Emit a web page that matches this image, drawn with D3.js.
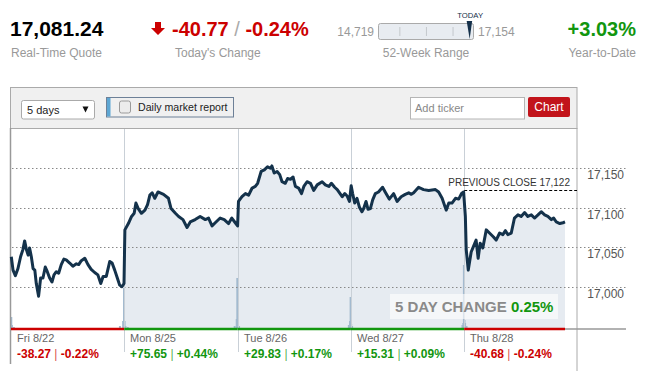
<!DOCTYPE html>
<html lang="en">
<head>
<meta charset="UTF-8">
<title>DJIA 5 days</title>
<script src="https://d3js.org/d3.v7.min.js"></script>
<style>
  body { margin: 0; background: #fff; }
  svg text { font-family: "Liberation Sans", Arial, sans-serif; }
</style>
</head>
<body>
<div id="chart"></div>
<script>
// quote header
const quote = 17081.24;
const todayChange = -40.77;
const todayPct = -0.24;
const weekLow = 14719;
const weekHigh = 17154;
const ytdPct = 3.03;
const prevClose = 17122;
const fiveDayPct = 0.25;

// day labels + daily changes
const days = ["Fri 8/22", "Mon 8/25", "Tue 8/26", "Wed 8/27", "Thu 8/28"];
const dayChanges = [-38.27, 75.65, 29.83, 15.31, -40.68];
const dayPercents = [-0.22, 0.44, 0.17, 0.09, -0.24];
const yTicks = [17000, 17050, 17100, 17150];

// intraday prices, [minute after open, price]
const fri = [[1,17038],[7,17021],[15,17014],[24,17023],[33,17038],[41,17047],[47,17058],[53,17047],[59,17040],[64,17049],[70,17038],[76,17023],[82,17021],[87,17004],[95,16988],[102,17011],[110,17011],[118,17025],[125,17019],[133,17011],[141,17006],[148,17015],[156,17019],[164,17017],[173,17028],[182,17035],[190,17034],[202,17030],[213,17026],[225,17029],[233,17028],[242,17033],[254,17036],[265,17028],[276,17022],[288,17018],[299,17015],[309,17004],[317,17013],[328,17013],[340,17032],[348,17030],[357,17021],[366,17011],[374,17002],[382,17000],[389,17004]];
const mon = [[2,17072],[14,17080],[25,17089],[34,17093],[40,17106],[48,17099],[59,17093],[71,17097],[80,17104],[88,17116],[96,17119],[105,17112],[116,17120],[135,17117],[152,17112],[161,17099],[176,17093],[187,17089],[202,17085],[216,17075],[227,17082],[244,17085],[261,17089],[279,17085],[290,17087],[302,17077],[313,17081],[330,17087],[344,17085],[359,17080],[370,17087],[382,17081],[390,17077]];
const tue = [[3,17108],[15,17114],[27,17118],[38,17116],[50,17125],[61,17127],[69,17131],[81,17146],[92,17148],[103,17152],[113,17150],[118,17153],[126,17144],[136,17146],[145,17142],[153,17133],[164,17131],[172,17137],[182,17136],[191,17139],[199,17127],[210,17125],[220,17118],[228,17127],[239,17133],[251,17131],[262,17122],[274,17129],[291,17133],[302,17129],[314,17127],[323,17131],[334,17126],[343,17123],[360,17114],[369,17118],[377,17115],[385,17108]];
const wed = [[1,17128],[6,17118],[13,17106],[21,17112],[29,17101],[38,17095],[44,17099],[52,17108],[59,17098],[67,17099],[75,17110],[84,17118],[95,17120],[109,17126],[118,17120],[132,17111],[147,17118],[159,17108],[173,17114],[187,17117],[199,17119],[208,17117],[216,17119],[233,17126],[250,17123],[268,17122],[291,17123],[302,17120],[314,17112],[328,17097],[337,17106],[348,17106],[360,17112],[371,17111],[381,17118],[388,17120]];
const thu = [[4,17089],[7,17047],[14,17021],[24,17044],[32,17051],[41,17059],[48,17036],[55,17055],[64,17049],[76,17072],[87,17068],[101,17063],[110,17059],[122,17068],[133,17066],[142,17071],[150,17066],[162,17068],[173,17087],[185,17091],[196,17089],[208,17094],[219,17089],[231,17091],[242,17087],[254,17091],[265,17095],[277,17091],[288,17089],[300,17085],[308,17087],[317,17082],[329,17080],[340,17081],[347,17082]];

// relative volume, [minute, vol]
const friVol = [[1,12],[3,4],[10,2],[375,3],[386,8],[389,41]];
const monVol = [[1,8],[4,3],[12,2],[380,3],[387,10],[389,51]];
const tueVol = [[1,6],[5,3],[383,4],[387,8],[389,32]];
const wedVol = [[1,5],[4,3],[384,4],[387,6],[389,64]];
const thuVol = [[1,9],[3,6],[8,3]];

const W = 645, H = 371;
const red = "#cc0000", green = "#12960f", gray = "#999";

const svg = d3.select("#chart").append("svg")
  .attr("width", W).attr("height", H);

// ---------- header ----------
svg.append("text").attr("x", 10).attr("y", 36)
  .attr("font-size", 21).attr("font-weight", "bold").attr("fill", "#000")
  .text(d3.format(",.2f")(quote));
svg.append("text").attr("x", 11).attr("y", 57)
  .attr("font-size", 12).attr("fill", gray).text("Real-Time Quote");

svg.append("path").attr("d", "M155,22h6v6h4l-7,7l-7,-7h4z").attr("fill", red);
const chg = svg.append("text").attr("x", 172).attr("y", 36)
  .attr("font-size", 20).attr("font-weight", "bold").attr("fill", red);
chg.append("tspan").text(todayChange.toFixed(2) + " ");
chg.append("tspan").attr("fill", "#aaa").attr("font-weight", "normal").text("/");
chg.append("tspan").text(" " + todayPct.toFixed(2) + "%");
svg.append("text").attr("x", 175).attr("y", 57)
  .attr("font-size", 12).attr("fill", gray).text("Today's Change");

// 52 week range
const rng = d3.scaleLinear().domain([weekLow, weekHigh]).range([378, 473]);
svg.append("text").attr("x", 374).attr("y", 36).attr("text-anchor", "end")
  .attr("font-size", 12).attr("fill", gray).text(d3.format(",")(weekLow));
svg.append("text").attr("x", 478).attr("y", 36)
  .attr("font-size", 12).attr("fill", gray).text(d3.format(",")(weekHigh));
svg.append("rect").attr("x", 378.5).attr("y", 23.5).attr("width", 95).attr("height", 16)
  .attr("rx", 2).attr("fill", "#e8ecf1").attr("stroke", "#aaa");
svg.selectAll(".rtick").data([0.23, 0.51, 0.79]).join("line")
  .attr("x1", d => rng(weekLow + d * (weekHigh - weekLow)))
  .attr("x2", d => rng(weekLow + d * (weekHigh - weekLow)))
  .attr("y1", 27).attr("y2", 36).attr("stroke", "#c4c8cc");
const tx = rng(quote);
svg.append("path")
  .attr("d", `M${tx - 3.5},21 L${tx + 2},21 L${tx - 0.5},39 Z`)
  .attr("fill", "#14304a");
svg.append("text").attr("x", tx).attr("y", 17.5).attr("text-anchor", "middle")
  .attr("font-size", 7.7).attr("fill", "#14304a").text("TODAY");
svg.append("text").attr("x", 426).attr("y", 57).attr("text-anchor", "middle")
  .attr("font-size", 12).attr("fill", gray).text("52-Week Range");

svg.append("text").attr("x", 636).attr("y", 36).attr("text-anchor", "end")
  .attr("font-size", 20).attr("font-weight", "bold").attr("fill", green)
  .text("+" + ytdPct.toFixed(2) + "%");
svg.append("text").attr("x", 636).attr("y", 57).attr("text-anchor", "end")
  .attr("font-size", 12).attr("fill", gray).text("Year-to-Date");

// ---------- chart box + toolbar ----------
svg.append("rect").attr("x", 10.5).attr("y", 87.5).attr("width", 566.5).attr("height", 41)
  .attr("fill", "#f0f0f0").attr("stroke", "#aaa");

// dropdown
svg.append("rect").attr("x", 21.5).attr("y", 100.5).attr("width", 73).attr("height", 18.5)
  .attr("rx", 2).attr("fill", "#fff").attr("stroke", "#aaa");
svg.append("text").attr("x", 27).attr("y", 113.5).attr("font-size", 11).attr("fill", "#222").text("5 days");
svg.append("path").attr("d", "M82.5,106.5h6l-3,6z").attr("fill", "#111");

// daily market report toggle
svg.append("rect").attr("x", 106.5).attr("y", 97.5).attr("width", 127).attr("height", 19.5)
  .attr("fill", "#f0f0f0").attr("stroke", "#6d8097");
svg.append("rect").attr("x", 107).attr("y", 98).attr("width", 3.5).attr("height", 18.5).attr("fill", "#5da6d3");
svg.append("rect").attr("x", 119.5).attr("y", 101).attr("width", 11).attr("height", 12)
  .attr("rx", 2).attr("fill", "#ececec").attr("stroke", "#9a9a9a");
svg.append("text").attr("x", 138).attr("y", 111).attr("font-size", 10.6).attr("fill", "#222").text("Daily market report");

// ticker input + button
svg.append("rect").attr("x", 410.5).attr("y", 97.5).attr("width", 114).attr("height", 21.5)
  .attr("fill", "#fff").attr("stroke", "#b5b5b5");
svg.append("text").attr("x", 415).attr("y", 112).attr("font-size", 11).attr("fill", "#888").text("Add ticker");
svg.append("rect").attr("x", 528).attr("y", 97).attr("width", 42).attr("height", 20)
  .attr("rx", 2).attr("fill", "#c2141b");
svg.append("text").attr("x", 549).attr("y", 111).attr("text-anchor", "middle")
  .attr("font-size", 12).attr("fill", "#fff").text("Chart");

// ---------- scales ----------
const dayLen = 390;
const x = d3.scaleLinear().domain([0, days.length * dayLen]).range([11, 577.5]);
const y = d3.scaleLinear().domain([17000, 17150]).range([286.7, 168.3]);
const baseY = 329;
const vol = d3.scaleLinear().domain([0, 100]).range([baseY, baseY - 100]);

const series = [fri, mon, tue, wed, thu];
const volumes = [friVol, monVol, tueVol, wedVol, thuVol];
const pts = series.flatMap((s, i) => s.map(([m, p]) => ({ t: i * dayLen + m, p, day: i })));
const vols = volumes.flatMap((s, i) => s.map(([m, v]) => ({ t: i * dayLen + m, v })));

// area (from Monday onward)
const area = d3.area().x(d => x(d.t)).y0(baseY).y1(d => y(d.p));
svg.append("path").datum(pts.filter(d => d.day > 0))
  .attr("d", area).attr("fill", "#e6ebf1");

// volume
svg.selectAll(".vol").data(vols).join("rect")
  .attr("x", d => x(d.t) - 1).attr("width", 2)
  .attr("y", d => vol(d.v)).attr("height", d => baseY - vol(d.v))
  .attr("fill", "#a3bacf");

// gridlines + y labels
svg.selectAll(".grid").data(yTicks).join("line")
  .attr("x1", 12).attr("x2", 626)
  .attr("y1", d => Math.round(y(d)) + 0.5).attr("y2", d => Math.round(y(d)) + 0.5)
  .attr("stroke", "#888").attr("stroke-dasharray", "1.5,2.5");
svg.selectAll(".ylab").data(yTicks).join("text")
  .attr("x", 624).attr("y", d => y(d) + 11).attr("text-anchor", "end")
  .attr("font-size", 12).attr("fill", "#555").text(d => d3.format(",")(d));

// day dividers
svg.selectAll(".div").data(days.slice(1)).join("line")
  .attr("x1", (d, i) => Math.round(x((i + 1) * dayLen)) + 0.5)
  .attr("x2", (d, i) => Math.round(x((i + 1) * dayLen)) + 0.5)
  .attr("y1", 129).attr("y2", 352).attr("stroke", "#c9d0d7");

// box sides
svg.append("line").attr("x1", 10.5).attr("x2", 10.5).attr("y1", 128).attr("y2", 364)
  .attr("stroke", "#999").attr("stroke-width", 1.5);
svg.append("line").attr("x1", 577).attr("x2", 577).attr("y1", 128).attr("y2", 371)
  .attr("stroke", "#aaa");

// previous close
const lastT = pts[pts.length - 1].t;
svg.append("line").attr("x1", x(4 * dayLen)).attr("x2", 577)
  .attr("y1", Math.round(y(prevClose)) + 0.5).attr("y2", Math.round(y(prevClose)) + 0.5)
  .attr("stroke", "#000").attr("stroke-dasharray", "3,2");
svg.append("text").attr("x", 570).attr("y", y(prevClose) - 4.5).attr("text-anchor", "end")
  .attr("font-size", 10).attr("fill", "#333").text("PREVIOUS CLOSE " + d3.format(",")(prevClose));

// price line
svg.append("path").datum(pts)
  .attr("d", d3.line().x(d => x(d.t)).y(d => y(d.p)))
  .attr("fill", "none").attr("stroke", "#14324b").attr("stroke-width", 3)
  .attr("stroke-linejoin", "round");

// baseline coloured by day
svg.append("line").attr("x1", x(lastT)).attr("x2", 626)
  .attr("y1", baseY).attr("y2", baseY).attr("stroke", "#999").attr("stroke-width", 1.5);
svg.selectAll(".dayline").data(dayChanges).join("line")
  .attr("x1", (d, i) => x(i * dayLen))
  .attr("x2", (d, i) => i === days.length - 1 ? x(lastT) : x((i + 1) * dayLen))
  .attr("y1", baseY).attr("y2", baseY)
  .attr("stroke", d => d < 0 ? red : green).attr("stroke-width", 2.5);

// 5 day change badge
svg.append("rect").attr("x", 390).attr("y", 294).attr("width", 168).attr("height", 25)
  .attr("fill", "#fff").attr("fill-opacity", 0.6);
const badge = svg.append("text").attr("x", 395).attr("y", 312)
  .attr("font-size", 15).attr("font-weight", "bold");
badge.append("tspan").attr("fill", "#8a8a8a").text("5 DAY CHANGE ");
badge.append("tspan").attr("fill", green).text(fiveDayPct.toFixed(2) + "%");

// day labels + changes
const dayG = svg.selectAll(".day").data(days).join("g")
  .attr("transform", (d, i) => `translate(${Math.round(x(i * dayLen)) + 6},0)`);
dayG.append("text").attr("y", 342).attr("font-size", 11).attr("fill", "#666").text(d => d);
const chgText = dayG.append("text").attr("y", 358).attr("font-size", 12).attr("font-weight", "bold")
  .attr("fill", (d, i) => dayChanges[i] < 0 ? red : green);
const sgn = v => (v < 0 ? "-" : "+") + Math.abs(v).toFixed(2);
chgText.append("tspan").text((d, i) => sgn(dayChanges[i]) + " ");
chgText.append("tspan").attr("font-weight", "normal").attr("fill-opacity", 0.75).text("|");
chgText.append("tspan").text((d, i) => " " + sgn(dayPercents[i]) + "%");
</script>
</body>
</html>
